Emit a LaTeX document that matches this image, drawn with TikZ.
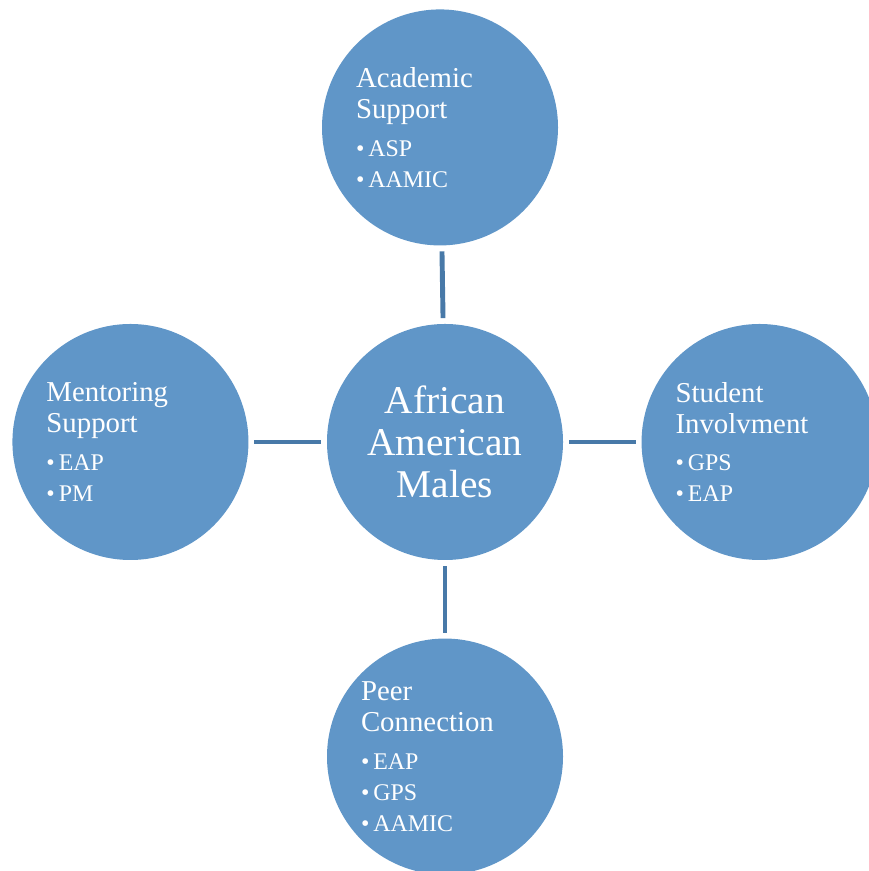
\documentclass[tikz,border=0pt]{standalone}
\usepackage{fontspec}
\setmainfont{Liberation Serif}
\usepackage{xcolor}
\definecolor{bubblefill}{RGB}{96,150,200}
\definecolor{linkblue}{RGB}{72,121,168}
\usepackage{tikz}
\usetikzlibrary{positioning}

\begin{document}
\begin{tikzpicture}[
    bubble/.style={circle,fill=bubblefill,text=white,minimum size=5.9cm,inner sep=0pt},
    sidebubble/.style={bubble,text width=4.2cm,align=left,font=\fontsize{17}{22}\selectfont},
    link/.style={draw=linkblue,line width=3.5pt,shorten <=0.14cm,shorten >=0.14cm},
    node distance=1.95cm]
            \useasboundingbox (0,0) rectangle (21.7,21.775);
            \node[bubble,align=center,font=\fontsize{28}{30}\selectfont] (centre) at (11.125,10.725) {African\\American\\Males};
            \node[sidebubble,above=of centre,xshift=-0.125cm] (academic) {{\fontsize{20.5}{23}\selectfont Academic\\Support}\\[5pt]\textbullet\,ASP\\\textbullet\,AAMIC};
            \node[sidebubble,left=of centre] (mentor) {{\fontsize{20.5}{23}\selectfont Mentoring\\Support}\\[5pt]\textbullet\,EAP\\\textbullet\,PM};
            \node[sidebubble,right=of centre] (student) {{\fontsize{20.5}{23}\selectfont Student\\Involvment}\\[5pt]\textbullet\,GPS\\\textbullet\,EAP};
            \node[sidebubble,below=of centre] (peer) {{\fontsize{20.5}{23}\selectfont Peer\\Connection}\\[5pt]\textbullet\,EAP\\\textbullet\,GPS\\\textbullet\,AAMIC};
            \draw[link] (academic) -- (centre);
            \draw[link] (mentor) -- (centre);
            \draw[link] (student) -- (centre);
            \draw[link] (peer) -- (centre);
        \end{tikzpicture}
\end{document}
